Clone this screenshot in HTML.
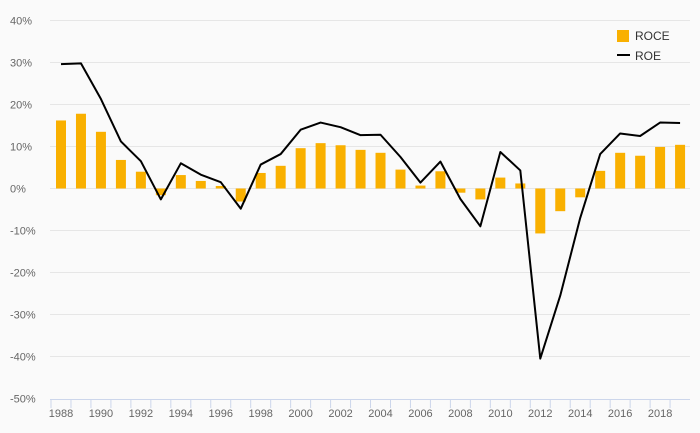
<!DOCTYPE html>
<html><head><meta charset="utf-8"><style>
body{margin:0;background:#fafafa;}
svg{display:block;font-family:"Liberation Sans",sans-serif;}
</style></head><body>
<svg id="chart" width="700" height="433">
<rect width="700" height="433" fill="#fafafa"/>
<g id="grid"></g><g id="bars"></g><g id="line"></g><g id="xaxis"></g>
<g>
<rect x="617" y="30" width="12" height="12" fill="#f9b000"/>
<text x="635" y="40" font-size="12" fill="#333">ROCE</text>
<line x1="617" y1="55" x2="630" y2="55" stroke="#000" stroke-width="2"/>
<text x="635" y="60" font-size="12" fill="#333">ROE</text>
</g>
</svg>
<script>
const years=[1988,1989,1990,1991,1992,1993,1994,1995,1996,1997,1998,1999,2000,2001,2002,2003,2004,2005,2006,2007,2008,2009,2010,2011,2012,2013,2014,2015,2016,2017,2018,2019];
const roce=[16.2,17.8,13.5,6.8,4.0,-1.6,3.2,1.8,0.6,-3.1,3.7,5.4,9.6,10.8,10.3,9.2,8.5,4.5,0.7,4.1,-1.0,-2.6,2.6,1.2,-10.7,-5.4,-2.1,4.2,8.5,7.8,9.9,10.4];
const roe=[29.6,29.8,21.3,11.2,6.5,-2.6,6.0,3.3,1.5,-4.8,5.7,8.2,14.0,15.7,14.6,12.7,12.8,7.5,1.4,6.4,-2.5,-9.0,8.7,4.3,-40.5,-25.5,-7.0,8.2,13.1,12.5,15.7,15.6];
const yTicks=[40,30,20,10,0,-10,-20,-30,-40,-50];
const xTicks=[1988,1990,1992,1994,1996,1998,2000,2002,2004,2006,2008,2010,2012,2014,2016,2018];
const NS='http://www.w3.org/2000/svg';
const y=v=>188.5-v*4.2;
const x=yr=>61+(yr-1988)*19.97;
function mk(tag,attrs,parent){const e=document.createElementNS(NS,tag);for(const k in attrs)e.setAttribute(k,attrs[k]);document.getElementById(parent).appendChild(e);return e;}
yTicks.forEach(t=>{
  if(t>-50){const l=mk('line',{x1:50,x2:690,y1:y(t),y2:y(t),stroke:'#e6e6e6','stroke-width':1},'grid');
  
  }
  const tx=mk('text',{x:10,y:y(t)+4,'font-size':11,fill:'#666'},'grid');tx.textContent=t+'%';
  
  
});
const ax=mk('line',{x1:50,x2:690,y1:399.5,y2:399.5,stroke:'#ccd6eb','stroke-width':1},'xaxis');


years.forEach(yr=>{const t=mk('line',{x1:x(yr)-10,x2:x(yr)-10,y1:399,y2:408,stroke:'#ccd6eb'},'xaxis');

});
xTicks.forEach(yr=>{const t=mk('text',{x:x(yr),y:417,'font-size':11,fill:'#666','text-anchor':'middle'},'xaxis');t.textContent=yr;

});
roce.forEach((v,i)=>{const y0=y(Math.max(v,0)),h=Math.abs(y(v)-y(0));
const b=mk('rect',{x:x(years[i])-5,y:y0,width:10,height:h,fill:'#f9b000'},'bars');

});
const p=mk('polyline',{points:roe.map((v,i)=>x(years[i])+','+y(v)).join(' '),fill:'none',stroke:'#000','stroke-width':2,'stroke-linejoin':'round'},'line');


</script>
</body></html>
